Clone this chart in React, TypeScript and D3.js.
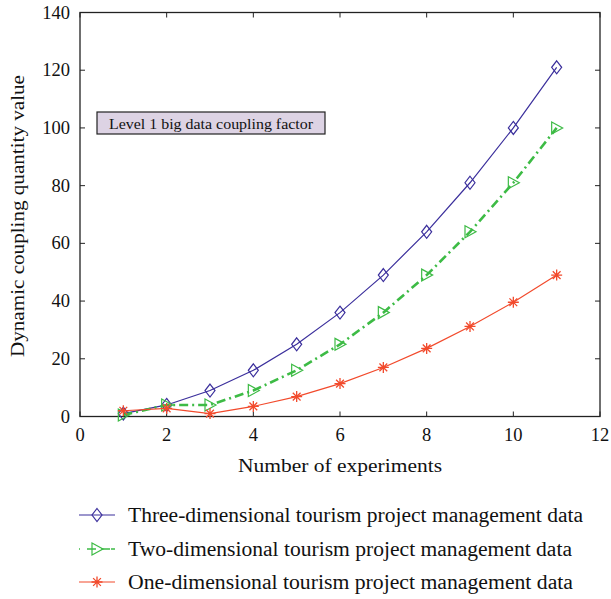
import React from "react";
import * as d3 from "d3";

const xValues = [1, 2, 3, 4, 5, 6, 7, 8, 9, 10, 11];
const threeDim = [1, 4, 9, 16, 25, 36, 49, 64, 81, 100, 121];
const twoDim = [0.5, 4, 4, 9, 16, 25, 36, 49, 64, 81, 100];
const oneDim = [2, 2.8, 1, 3.5, 6.9, 11.4, 17, 23.6, 31.2, 39.6, 49];
const xTicks = [0, 2, 4, 6, 8, 10, 12];
const yTicks = [0, 20, 40, 60, 80, 100, 120, 140];
const legendLabels = [
  "Three-dimensional tourism project management data",
  "Two-dimensional tourism project management data",
  "One-dimensional tourism project management data",
];
const legendWidths = [455, 444, 445];
const annotation = "Level 1 big data coupling factor";

const BLUE = "#3b2f9c";
const GREEN = "#3dbb45";
const RED = "#f24a2c";
const FONT = "'Liberation Serif', 'DejaVu Serif', serif";

function Diamond({ x, y, color }: { x: number; y: number; color: string }) {
  return (
    <path
      d={`M${x},${y - 6.5}L${x + 5},${y}L${x},${y + 6.5}L${x - 5},${y}Z`}
      fill="none"
      stroke={color}
      strokeWidth={1.2}
    />
  );
}
function Tri({ x, y, color }: { x: number; y: number; color: string }) {
  return (
    <path
      d={`M${x - 5},${y - 6}L${x + 6},${y}L${x - 5},${y + 6}Z`}
      fill="none"
      stroke={color}
      strokeWidth={1.2}
    />
  );
}
function Star({ x, y, color }: { x: number; y: number; color: string }) {
  const r = 5.5;
  const d = [0, 45, 90, 135]
    .map((a) => {
      const rad = (a * Math.PI) / 180;
      const dx = r * Math.cos(rad);
      const dy = r * Math.sin(rad);
      return `M${x - dx},${y - dy}L${x + dx},${y + dy}`;
    })
    .join("");
  return <path d={d} stroke={color} strokeWidth={1.3} fill="none" />;
}

export default function App() {
  const left = 80, right = 600, top = 12.5, bottom = 416.5;
  const xs = d3.scaleLinear().domain([0, 12]).range([left, right]);
  const ys = d3.scaleLinear().domain([0, 140]).range([bottom, top]);
  const line = d3
    .line<number>()
    .x((_, i) => xs(xValues[i]))
    .y((d) => ys(d));

  const series = [
    { data: threeDim, color: BLUE, width: 1.2, dash: undefined as string | undefined, M: Diamond },
    { data: twoDim, color: GREEN, width: 2.6, dash: "9,4,2,4", M: Tri },
    { data: oneDim, color: RED, width: 1.2, dash: undefined as string | undefined, M: Star },
  ];
  const legendY = [515, 549, 582];

  return (
    <svg width={611} height={599} style={{ position: "absolute", left: 0, top: 0, background: "#fff" }}>
      <rect x={0} y={0} width={611} height={599} fill="#fff" />
      {/* ticks */}
      {xTicks.map((t) => (
        <g key={"xt" + t}>
          <line x1={xs(t)} x2={xs(t)} y1={bottom} y2={bottom - 5} stroke="#222" strokeWidth={1} />
          <line x1={xs(t)} x2={xs(t)} y1={top} y2={top + 5} stroke="#222" strokeWidth={1} />
          <text x={xs(t)} y={bottom + 24} textAnchor="middle" fontFamily={FONT} fontSize={18.5} fill="#111">
            {t}
          </text>
        </g>
      ))}
      {yTicks.map((t) => (
        <g key={"yt" + t}>
          <line x1={left} x2={left + 5} y1={ys(t)} y2={ys(t)} stroke="#222" strokeWidth={1} />
          <line x1={right} x2={right - 5} y1={ys(t)} y2={ys(t)} stroke="#222" strokeWidth={1} />
          <text x={left - 10} y={ys(t) + 6} textAnchor="end" fontFamily={FONT} fontSize={18.5} fill="#111">
            {t}
          </text>
        </g>
      ))}
      <rect x={left} y={top} width={right - left} height={bottom - top} fill="none" stroke="#222" strokeWidth={1.3} />

      {/* series */}
      {series.map((s, si) => (
        <g key={"s" + si}>
          <path d={line(s.data) || ""} fill="none" stroke={s.color} strokeWidth={s.width} strokeDasharray={s.dash} />
          {s.data.map((v, i) => (
            <s.M key={i} x={xs(xValues[i])} y={ys(v)} color={s.color} />
          ))}
        </g>
      ))}

      {/* annotation */}
      <rect x={97} y={112} width={228} height={22} fill="#ddd3e4" stroke="#222" strokeWidth={1.2} />
      <text x={109} y={128.5} fontFamily={FONT} fontSize={15} fill="#111" textLength={204} lengthAdjust="spacingAndGlyphs">
        {annotation}
      </text>

      {/* axis titles */}
      <text x={238} y={472} fontFamily={FONT} fontSize={19.5} fill="#111" textLength={204} lengthAdjust="spacingAndGlyphs">
        Number of experiments
      </text>
      <text
        transform={`translate(24,357) rotate(-90)`}
        fontFamily={FONT}
        fontSize={19.5}
        fill="#111"
        textLength={282}
        lengthAdjust="spacingAndGlyphs"
      >
        Dynamic coupling quantity value
      </text>

      {/* legend */}
      {series.map((s, si) => (
        <g key={"l" + si}>
          <line x1={79} x2={115} y1={legendY[si]} y2={legendY[si]} stroke={s.color} strokeWidth={si === 1 ? 1.6 : 1.2} strokeDasharray={si === 1 ? "1,7,9,5,9" : undefined} />
          <s.M x={97} y={legendY[si]} color={s.color} />
          <text x={128} y={legendY[si] + 6.5} fontFamily={FONT} fontSize={20} fill="#111" textLength={legendWidths[si]} lengthAdjust="spacingAndGlyphs">
            {legendLabels[si]}
          </text>
        </g>
      ))}
    </svg>
  );
}
